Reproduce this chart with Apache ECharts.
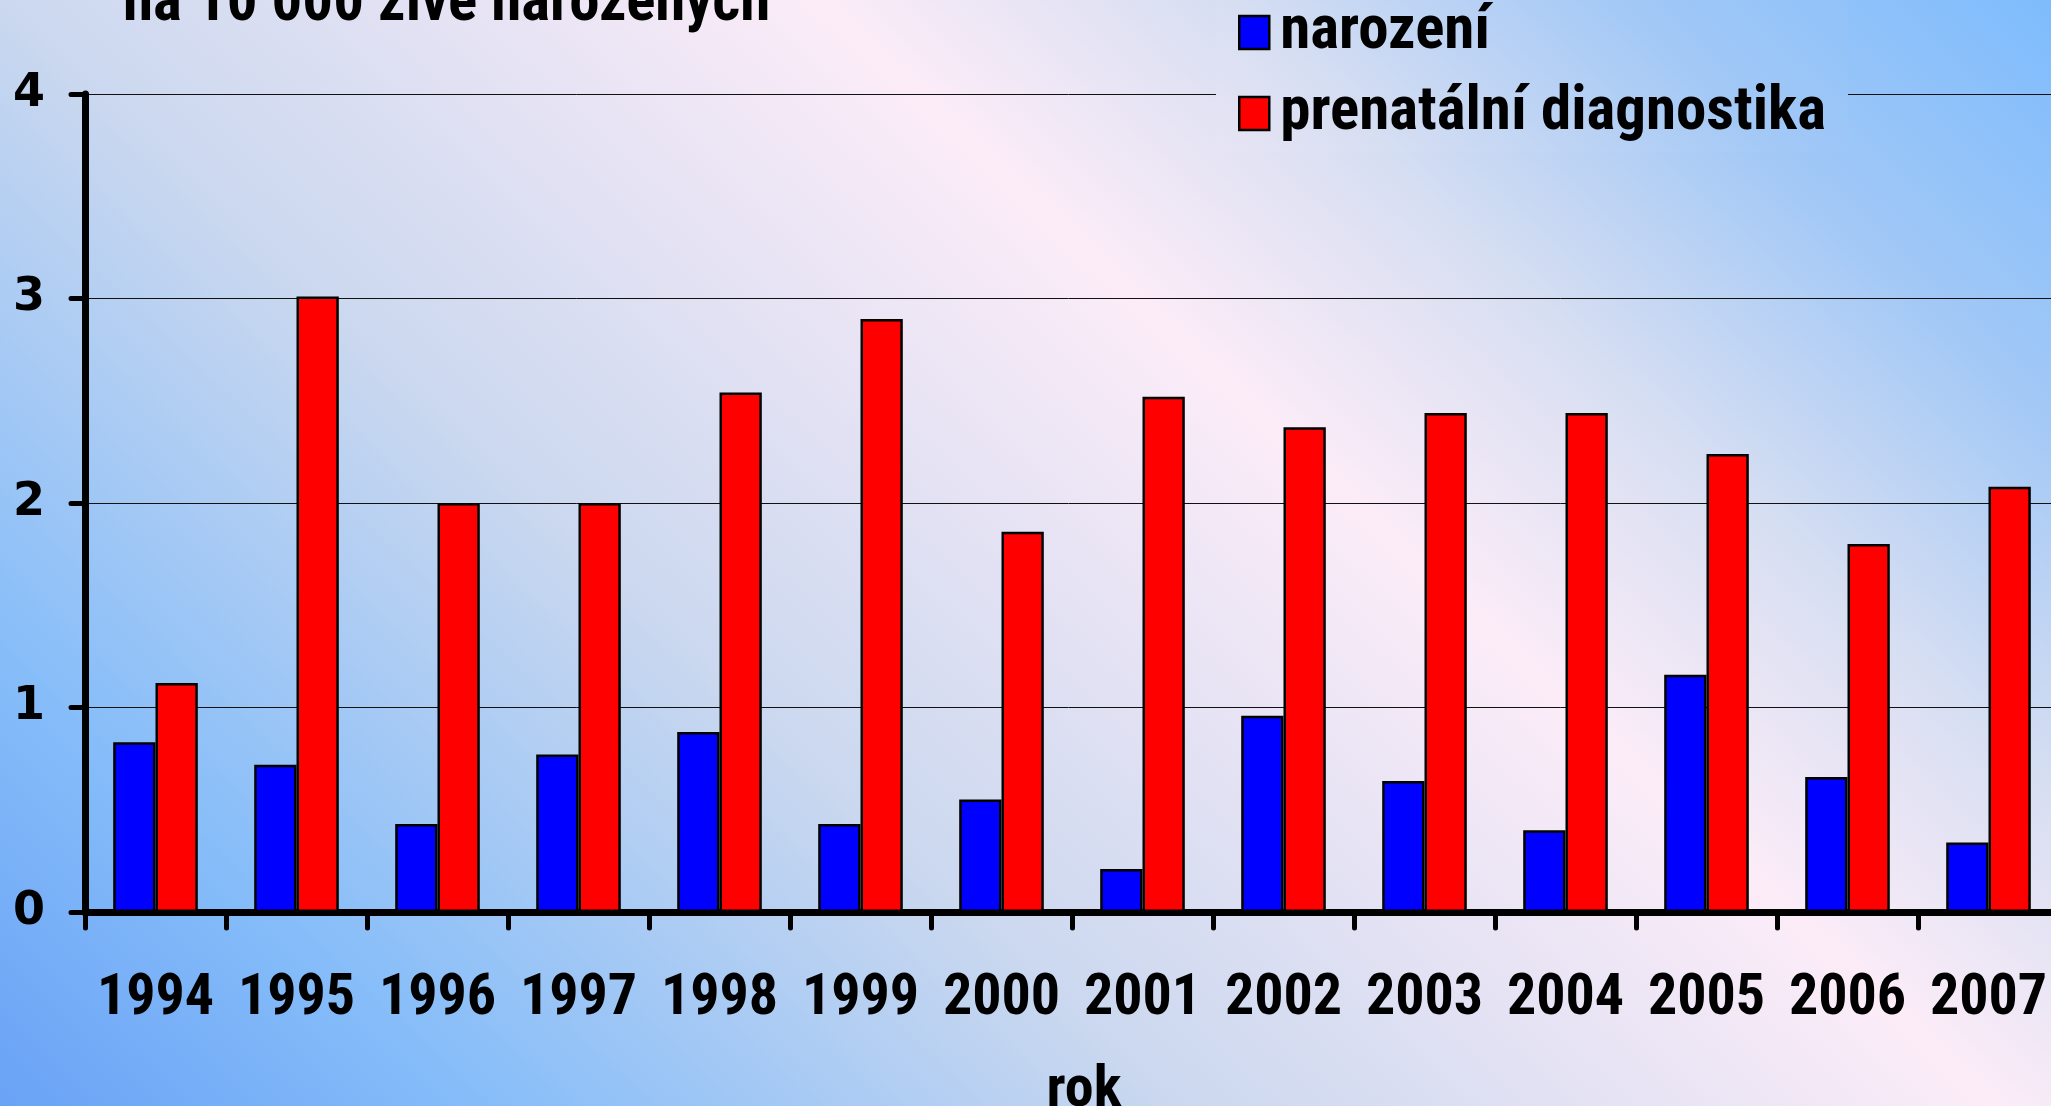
<!DOCTYPE html>
<html>
<head>
<meta charset="utf-8">
<script src="https://cdn.jsdelivr.net/npm/echarts@6/dist/echarts.min.js"></script>
<style>
  html, body { margin: 0; padding: 0; }
  #chart { width: 2051px; height: 1106px; }
</style>
</head>
<body>
<div id="chart"></div>
<script>
const years = ['1994', '1995', '1996', '1997', '1998', '1999', '2000',
               '2001', '2002', '2003', '2004', '2005', '2006', '2007'];
const narozeni = [0.83, 0.72, 0.43, 0.77, 0.88, 0.43, 0.55, 0.21, 0.96, 0.64, 0.40, 1.16, 0.66, 0.34];
const prenatalni = [1.12, 3.01, 2.00, 2.00, 2.54, 2.90, 1.86, 2.52, 2.37, 2.44, 2.44, 2.24, 1.80, 2.08];
const yTicks = [0, 1, 2, 3, 4];

// Roboto with font-stretch condensed stands in for Arial Narrow Bold
const narrow = 'Roboto, "Liberation Sans Narrow", sans-serif';
const narrowWeight = 'bold condensed';

let chartElement = document.getElementById('chart');
let chart = echarts.init(chartElement);

const stops = [
    { offset: 0, color: '#6aa2f6' },
    { offset: 0.15, color: '#86bdf9' },
    { offset: 0.365, color: '#cbd8ef' },
    { offset: 0.618, color: '#fcecf8' },
    { offset: 0.735, color: '#d8dff2' },
    { offset: 0.862, color: '#a2c8f6' },
    { offset: 1, color: '#7ebcfd' }
];
const legendLeft = 1216;
// diagonal background: blue bottom-left, pink band, blue top-right
const bg = new echarts.graphic.LinearGradient(0, 1106, 1515, -506, stops, true);
// same gradient, shifted into the legend's own coordinates
const legendBg = new echarts.graphic.LinearGradient(-legendLeft, 1106, 1515 - legendLeft, -506, stops, true);

const option = {
    backgroundColor: bg,
    animation: false,
    title: {
        text: 'na 10 000 živě narozených',
        left: 118,
        top: -31,
        textStyle: { fontFamily: narrow, fontWeight: narrowWeight, fontSize: 61, color: '#000' }
    },
    legend: {
        orient: 'vertical',
        left: legendLeft,
        top: 0,
        padding: [2, 22, 8, 22],
        icon: 'rect',
        itemWidth: 30,
        itemHeight: 33,
        itemGap: 20,
        backgroundColor: legendBg,
        itemStyle: { borderColor: '#000', borderWidth: 2.5 },
        textStyle: { fontFamily: narrow, fontWeight: narrowWeight, fontSize: 61, color: '#000', padding: [0, 0, 0, 6] },
        data: ['narození', 'prenatální diagnostika']
    },
    grid: { left: 85, right: -8, top: 94, bottom: 194, containLabel: false, outerBoundsMode: 'none' },
    xAxis: {
        type: 'category',
        data: years,
        name: 'rok',
        nameLocation: 'middle',
        nameGap: 150,
        nameTextStyle: { fontFamily: narrow, fontWeight: narrowWeight, fontSize: 58, color: '#000', padding: [0, 0, 0, 24] },
        axisLine: { lineStyle: { color: '#000', width: 7 } },
        axisTick: { show: true, length: 16, lineStyle: { color: '#000', width: 5, cap: 'round' } },
        axisLabel: { interval: 0, margin: 58, fontFamily: narrow, fontWeight: narrowWeight, fontSize: 58, color: '#000' }
    },
    yAxis: {
        type: 'value',
        min: yTicks[0],
        max: yTicks[yTicks.length - 1],
        interval: 1,
        axisLine: { show: true, lineStyle: { color: '#000', width: 7 } },
        axisTick: { show: true, length: 14, lineStyle: { color: '#000', width: 5, cap: 'round' } },
        axisLabel: { margin: 40, fontFamily: '"DejaVu Sans", sans-serif', fontWeight: 'bold', fontSize: 46, color: '#000' },
        splitLine: { show: true, lineStyle: { color: '#111', width: 1 } }
    },
    series: [
        {
            name: 'narození',
            type: 'bar',
            data: narozeni,
            barGap: '0%',
            barCategoryGap: '40%',
            itemStyle: { color: '#0000ff', borderColor: '#000', borderWidth: 2.5 }
        },
        {
            name: 'prenatální diagnostika',
            type: 'bar',
            data: prenatalni,
            itemStyle: { color: '#ff0000', borderColor: '#000', borderWidth: 2.5 }
        }
    ]
};

chart.setOption(option);
</script>
</body>
</html>
